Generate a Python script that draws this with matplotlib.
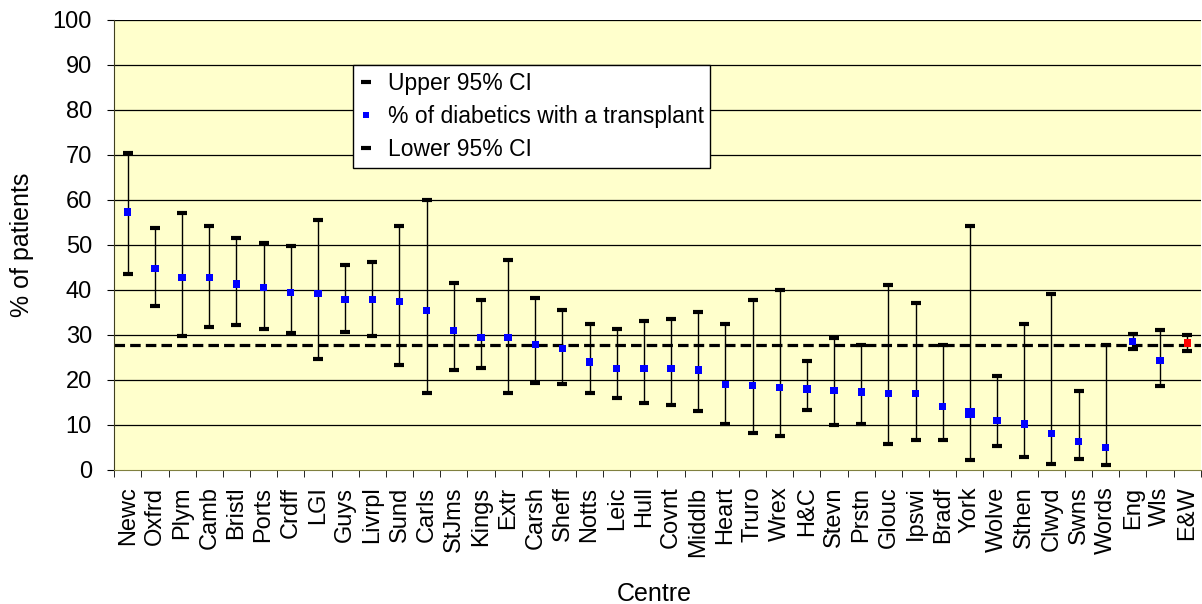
import numpy as np
import matplotlib.pyplot as plt
from matplotlib.lines import Line2D

plt.rcParams['font.family'] = ['Liberation Sans', 'DejaVu Sans']

centres = ['Newc', 'Oxfrd', 'Plym', 'Camb', 'Bristl', 'Ports', 'Crdff', 'LGI',
           'Guys', 'Livrpl', 'Sund', 'Carls', 'StJms', 'Kings', 'Extr', 'Carsh',
           'Sheff', 'Notts', 'Leic', 'Hull', 'Covnt', 'Middlb', 'Heart', 'Truro',
           'Wrex', 'H&C', 'Stevn', 'Prstn', 'Glouc', 'Ipswi', 'Bradf', 'York',
           'Wolve', 'Sthen', 'Clwyd', 'Swns', 'Words', 'Eng', 'Wls', 'E&W']
pct = [57.3, 44.8, 42.7, 42.7, 41.3, 40.6, 39.5, 39.2, 37.8, 37.8, 37.5, 35.5,
       31.0, 29.5, 29.5, 27.8, 26.9, 24.0, 22.6, 22.6, 22.6, 22.2, 19.0, 18.7,
       18.3, 18.0, 17.6, 17.3, 16.9, 16.9, 14.1, 12.7, 10.9, 10.2, 8.1, 6.3,
       4.9, 28.6, 24.4, 28.2]
upper = [70.5, 53.7, 57.0, 54.1, 51.6, 50.5, 49.8, 55.5, 45.5, 46.2, 54.1, 59.9,
         41.6, 37.8, 46.6, 38.1, 35.6, 32.4, 31.4, 33.1, 33.5, 35.0, 32.4, 37.8,
         40.0, 24.1, 29.3, 27.8, 41.0, 37.0, 27.7, 54.1, 20.9, 32.4, 39.2, 17.6,
         27.8, 30.3, 31.0, 29.9]
lower = [43.5, 36.4, 29.7, 31.8, 32.1, 31.4, 30.4, 24.6, 30.7, 29.7, 23.3, 17.0,
         22.2, 22.6, 17.0, 19.4, 19.1, 17.0, 15.9, 14.8, 14.5, 13.1, 10.3, 8.2,
         7.5, 13.4, 9.9, 10.3, 5.7, 6.6, 6.6, 2.1, 5.3, 2.8, 1.4, 2.4,
         1.0, 26.8, 18.7, 26.5]
national = 27.8

x = np.arange(len(centres))
pct = np.array(pct)
yerr = [pct - np.array(lower), np.array(upper) - pct]

fig = plt.figure(figsize=(12.02, 6.04), dpi=100)
ax = fig.add_axes([0.095, 0.222, 0.904, 0.745])
ax.set_facecolor('#FFFFCC')

for v in range(10, 101, 10):
    ax.axhline(v, color='black', lw=0.9, zorder=1)

ax.axhline(national, color='black', lw=2.3, ls=(0, (3.3, 1.6)), zorder=2)

ax.errorbar(x, pct, yerr=yerr, fmt='none', ecolor='black', elinewidth=1,
            capsize=3.6, capthick=3, zorder=3)
colors = ['blue'] * (len(centres) - 1) + ['red']
sizes = [27] * len(centres)
sizes[centres.index('York')] = 50
ax.scatter(x, pct, marker='s', s=sizes, c=colors, zorder=4, linewidths=0)

ax.set_xlim(-0.5, len(centres) - 0.5)
ax.set_ylim(0, 100)
ax.set_yticks(range(0, 101, 10))
ax.set_xticks(x)
ax.set_xticklabels(centres, rotation=90, fontsize=17, va='top')
ax.set_xticks(np.arange(-0.5, len(centres), 1), minor=True)
ax.tick_params(axis='x', which='major', length=0, pad=12)
ax.tick_params(axis='x', which='minor', length=5, direction='out')
ax.tick_params(axis='y', labelsize=17, length=5, pad=11)
for s in ['top', 'right']:
    ax.spines[s].set_visible(False)
ax.spines['bottom'].set_color('#808040')
ax.spines['left'].set_color('#404020')

ax.set_ylabel('% of patients', fontsize=18)
ax.yaxis.set_label_coords(-0.074, 0.5)
ax.set_xlabel('Centre', fontsize=18)
ax.xaxis.set_label_coords(0.497, -0.249)

handles = [
    Line2D([], [], color='black', marker='_', ls='none', markersize=7, markeredgewidth=3),
    Line2D([], [], color='blue', marker='s', ls='none', markersize=4, markeredgewidth=0),
    Line2D([], [], color='black', marker='_', ls='none', markersize=7, markeredgewidth=3),
]
labels = ['Upper 95% CI', '% of diabetics with a transplant', 'Lower 95% CI']
leg = ax.legend(handles, labels, loc='upper left', bbox_to_anchor=(0.220, 0.9),
                borderaxespad=0, fontsize=16.5, frameon=True, fancybox=False,
                framealpha=1, edgecolor='black', handlelength=0.5,
                handletextpad=0.7, borderpad=0.3, labelspacing=0.45)
leg.get_frame().set_linewidth(1)

fig.savefig('out.png', dpi=100)
